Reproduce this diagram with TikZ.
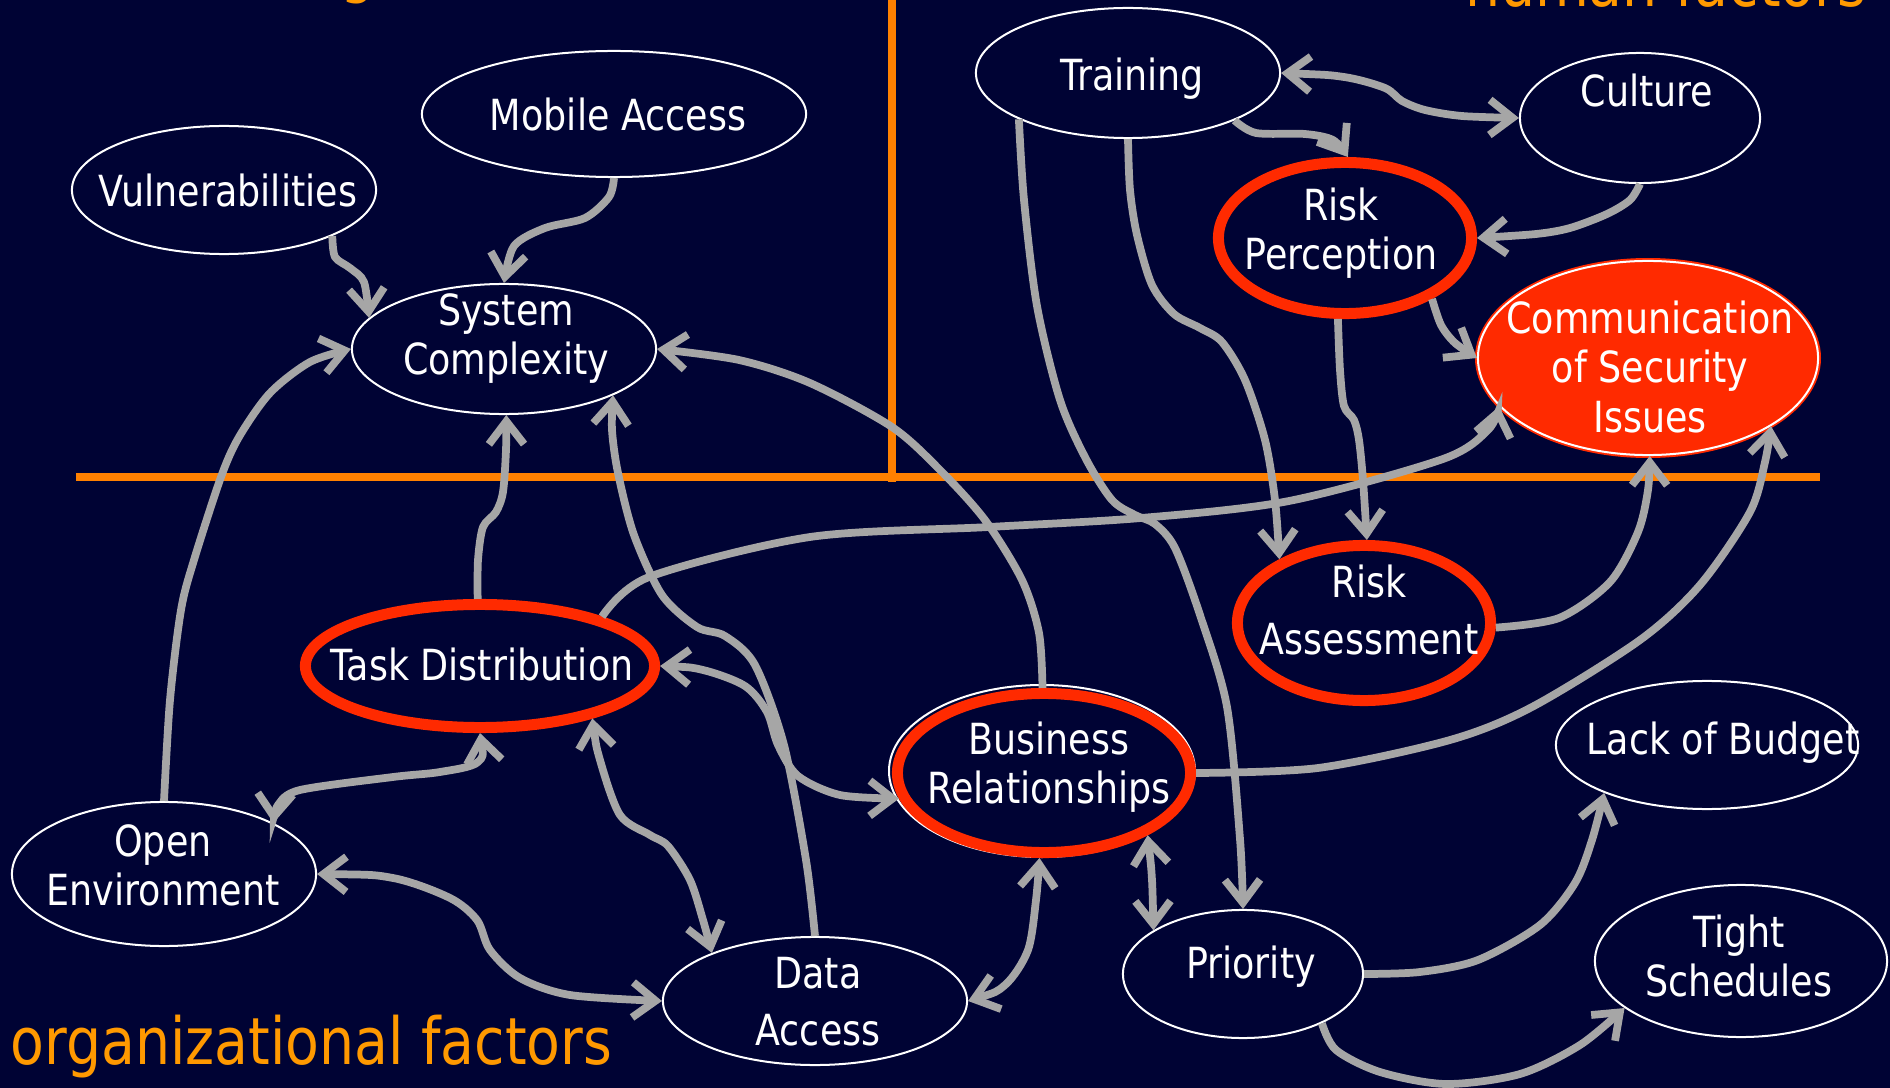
\documentclass[tikz,border=0pt]{standalone}
\usepackage{fontspec}
\setmainfont{DejaVu Sans}[FakeStretch=0.85]
\usetikzlibrary{arrows.meta,shapes.geometric}
\definecolor{bg}{RGB}{0,3,52}
\definecolor{lineorange}{RGB}{255,128,0}
\definecolor{txtorange}{RGB}{255,153,0}
\definecolor{hot}{RGB}{255,42,0}
\definecolor{conngray}{RGB}{166,166,166}
\newcommand\mynodefont{\fontsize{12.2pt}{14.2pt}\selectfont}
\newcommand\mylblfont{\fontsize{18.5pt}{22pt}\selectfont}
\tikzset{
  plain/.style={ellipse, draw=white, line width=0.57pt, fill=bg, inner sep=0pt},
  hotring/.style={ellipse, draw=hot, line width=3.13pt, fill=bg, inner sep=0pt},
  lbl/.style={text=white, font=\mynodefont, align=center, inner sep=0pt},
  factor/.style={text=txtorange, font=\mylblfont, inner sep=0pt},
  link/.style={draw=conngray, line width=2.2pt},
  arr/.style={-{Straight Barb[length=6.5pt,width=10pt]}},
  dbl/.style={{Straight Barb[length=6.5pt,width=10pt]}-{Straight Barb[length=6.5pt,width=10pt]}},
  divider/.style={draw=lineorange, line width=2pt}
}
\begin{document}
\begin{tikzpicture}[x=0.01cm,y=0.01cm]
\useasboundingbox (0,0) rectangle (1890,-1088);
\fill[bg] (0,0) rectangle (1890,-1088);
% quadrant dividers
\draw[divider] (76,-477) -- (1820,-477);
\draw[divider] (892,5) -- (892,-482);
% quadrant titles
\node[factor, anchor=base west] (tech) at (101,9) {technological factors};
\node[factor, anchor=base east] (human) at (1867,-7) {human factors};
\node[factor, anchor=base west] (org) at (10,-1064) {organizational factors};
% nodes
\node[plain, minimum width=3.04cm, minimum height=1.28cm] (vul) at (224,-190) {};
\node[plain, minimum width=3.84cm, minimum height=1.26cm] (ma) at (614,-114) {};
\node[plain, minimum width=3.04cm, minimum height=1.30cm] (sc) at (504,-349) {};
\node[plain, minimum width=3.04cm, minimum height=1.30cm] (tr) at (1128,-73) {};
\node[plain, minimum width=2.40cm, minimum height=1.30cm] (cul) at (1640,-118) {};
\node[hotring, minimum width=2.53cm, minimum height=1.51cm] (rp) at (1345,-238) {};
\fill[hot] (1648,-358) ellipse [x radius=173, y radius=100];
\node[ellipse, fill=hot, draw=white, line width=0.57pt, inner sep=0pt, minimum width=3.40cm, minimum height=1.94cm] (comm) at (1648,-358) {};
\node[hotring, minimum width=2.53cm, minimum height=1.55cm] (ra) at (1364,-623) {};
\node[hotring, minimum width=3.49cm, minimum height=1.23cm] (td) at (480,-666) {};
\draw[white, line width=0.57pt] (1042,-771) ellipse [x radius=153, y radius=86];
\node[hotring, minimum width=2.93cm, minimum height=1.59cm] (br) at (1044,-773) {};
\node[plain, minimum width=3.04cm, minimum height=1.44cm] (oe) at (164,-874) {};
\node[plain, minimum width=3.04cm, minimum height=1.28cm] (da) at (815,-1001) {};
\node[plain, minimum width=2.40cm, minimum height=1.28cm] (pri) at (1243,-974) {};
\node[plain, minimum width=3.02cm, minimum height=1.28cm] (lob) at (1707,-745) {};
\node[plain, minimum width=2.92cm, minimum height=1.52cm] (ts) at (1741,-961) {};
% labels
\node[lbl] (vul-t) at (228,-197) {\strut Vulnerabilities};
\node[lbl] (ma-t) at (618,-121) {\strut Mobile Access};
\node[lbl] (sc-t) at (506,-340) {\strut System\\\strut Complexity};
\node[lbl] (tr-t) at (1132,-81) {\strut Training};
\node[lbl] (cul-t) at (1647,-97) {\strut Culture};
\node[lbl] (rp-t) at (1341,-235) {\strut Risk\\\strut Perception};
\node[lbl] (comm-t) at (1650,-373) {\strut Communication\\\strut of Security\\\strut Issues};
\node[lbl] (ra-t) at (1369,-616) {\strut Risk\\[0.08cm]\strut Assessment};
\node[lbl] (td-t) at (482,-671) {\strut Task Distribution};
\node[lbl] (br-t) at (1049,-769) {\strut Business\\\strut Relationships};
\node[lbl] (oe-t) at (163,-871) {\strut Open\\\strut Environment};
\node[lbl] (da-t) at (818,-1007) {\strut Data\\[0.08cm]\strut Access};
\node[lbl] (pri-t) at (1251,-969) {\strut Priority};
\node[lbl] (lob-t) at (1723,-745) {\strut Lack of Budget};
\node[lbl] (ts-t) at (1739,-962) {\strut Tight\\\strut Schedules};
% connectors
\draw[link,arr] plot[smooth,tension=.5] coordinates {(vul.-23) (335,-257) (350,-268) (364,-282) (sc.167)};
\draw[link,arr] plot[smooth,tension=.5] coordinates {(ma.-90) (609,-197) (585,-218) (545,-228) (514,-246) (sc.90)};
\draw[link,arr] plot[smooth,tension=.5] coordinates {(oe.90) (170,-700) (181,-610) (194,-560) (221,-477) (239,-437) (270,-393) (310,-362) (sc.180)};
\draw[link,arr] plot[smooth,tension=.5] coordinates {(td.92) (478,-560) (483,-527) (496,-512) (503,-492) (506,-450) (sc.-88)};
\draw[link,arr] plot[smooth,tension=.5] coordinates {(da.90) (806,-860) (784,-745) (755,-665) (725,-636) (697,-627) (662,-595) (634,-535) (618,-473) (612,-430) (sc.-23)};
\draw[link,arr] plot[smooth,tension=.5] coordinates {(br.91) (1039,-633) (1022,-580) (985,-520) (940,-470) (892,-427) (810,-383) (739,-360) (sc.0)};
\draw[link,arr] plot[smooth,tension=.5] coordinates {(td.22) (649,-577) (810,-537) (989,-527) (1141,-518) (1289,-501) (1443,-459) (1488,-430) (comm.198)};
\draw[link,dbl] plot[smooth,tension=.5] coordinates {(td.0) (703,-670) (745,-686) (767,-712) (778,-745) (798,-776) (840,-795) (br.190)};
\draw[link,dbl] plot[smooth,tension=.5] coordinates {(td.-90) (478,-762) (440,-772) (393,-777) (300,-790) (278,-805) (oe.25)};
\draw[link,dbl] plot[smooth,tension=.5] coordinates {(td.-25) (600,-760) (620,-815) (650,-835) (668,-846) (690,-880) (703,-920) (da.155)};
\draw[link,dbl] plot[smooth,tension=.5] coordinates {(oe.0) (393,-878) (450,-898) (477,-920) (490,-950) (520,-978) (570,-995) (da.180)};
\draw[link,dbl] plot[smooth,tension=.5] coordinates {(da.0) (1005,-985) (1028,-950) (1036,-900) (br.-93)};
\draw[link,dbl] plot[smooth,tension=.5] coordinates {(br.-31) (1152,-880) (pri.154)};
\draw[link,arr] plot[smooth,tension=.5] coordinates {(br.0) (1318,-768) (1450,-740) (1532,-707) (1640,-640) (1700,-585) (1750,-512) (1765,-462) (comm.-29)};
\draw[link,arr] plot[smooth,tension=.5] coordinates {(pri.0) (1420,-972) (1478,-960) (1540,-925) (1575,-883) (1592,-840) (lob.205)};
\draw[link,arr] plot[smooth,tension=.5] coordinates {(pri.-32) (1336,-1050) (1380,-1072) (1446,-1084) (1520,-1074) (1580,-1045) (ts.202)};
\draw[link,arr] plot[smooth,tension=.5] coordinates {(tr.203) (1024,-200) (1037,-306) (1060,-400) (1086,-459) (1112,-500) (1135,-515) (1155,-524) (1175,-548) (1200,-615) (1227,-707) (1240,-839) (pri.90)};
\draw[link,arr] plot[smooth,tension=.5] coordinates {(tr.-90) (1130,-190) (1137,-235) (1152,-285) (1174,-314) (1200,-328) (1222,-342) (1245,-380) (1265,-440) (1275,-500) (ra.143)};
\draw[link,arr] plot[smooth,tension=.5] coordinates {(tr.-24) (1256,-133) (1305,-134) (1333,-140) (rp.88)};
\draw[link,dbl] plot[smooth,tension=.5] coordinates {(tr.0) (1344,-77) (1385,-88) (1402,-101) (1425,-110) (1462,-116) (cul.180)};
\draw[link,arr] plot[smooth,tension=.5] coordinates {(cul.-90) (1630,-200) (1607,-214) (1570,-228) (1536,-234) (rp.0)};
\draw[link,arr] plot[smooth,tension=.5] coordinates {(rp.-35) (1441,-325) (1455,-343) (comm.180)};
\draw[link,arr] plot[smooth,tension=.5] coordinates {(rp.-95) (1340,-370) (1344,-406) (1354,-420) (1359,-440) (1363,-480) (ra.88)};
\draw[link,arr] plot[smooth,tension=.5] coordinates {(ra.-2) (1559,-618) (1610,-582) (1638,-532) (1648,-490) (comm.-89)};
\end{tikzpicture}
\end{document}
